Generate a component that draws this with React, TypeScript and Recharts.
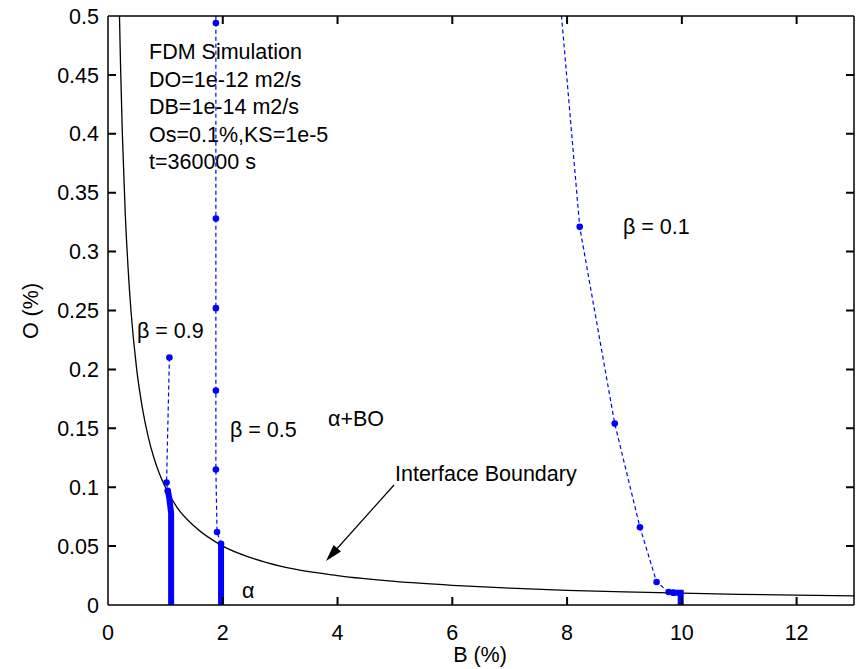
import { ComposedChart, Line, XAxis, YAxis } from 'recharts';

const BLUE = '#0000ff';
const FONT = "'Liberation Sans', Arial, Helvetica, sans-serif";

// B (%) ticks and O (%) ticks
const xTicks = [0, 2, 4, 6, 8, 10, 12];
const yTicks = [0, 0.05, 0.1, 0.15, 0.2, 0.25, 0.3, 0.35, 0.4, 0.45, 0.5];

// interface boundary (black curve)
const boundaryB = [0.2, 0.22, 0.25, 0.3, 0.35, 0.4, 0.5, 0.6, 0.7, 0.8, 0.9, 1, 1.2, 1.5, 2, 2.5, 3, 4, 5, 6, 7, 8, 9, 10, 11, 12, 13];
const boundaryO = [0.5, 0.455, 0.4, 0.333, 0.286, 0.25, 0.2, 0.167, 0.143, 0.125, 0.111, 0.1, 0.083, 0.067, 0.05, 0.04, 0.033, 0.025, 0.02, 0.0167, 0.0143, 0.0125, 0.0111, 0.01, 0.0091, 0.0083, 0.0077];

// beta = 0.9 profile
const beta09B = [1.07, 1.02, 1.04];
const beta09O = [0.21, 0.104, 0.097];
const beta09ThickB = [1.04, 1.07, 1.1, 1.1];
const beta09ThickO = [0.098, 0.09, 0.078, 0];

// beta = 0.5 profile
const beta05B = [1.88, 1.88, 1.88, 1.88, 1.88, 1.88, 1.9, 1.97];
const beta05O = [0.53, 0.494, 0.328, 0.252, 0.182, 0.115, 0.062, 0.052];
const beta05ThickB = [1.97, 1.97];
const beta05ThickO = [0.052, 0];

// beta = 0.1 profile
const beta01B = [7.85, 8.22, 8.83, 9.27, 9.56, 9.77, 9.85];
const beta01O = [0.53, 0.321, 0.154, 0.066, 0.0195, 0.011, 0.0105];
const beta01ThickB = [9.82, 9.98, 9.98];
const beta01ThickO = [0.0105, 0.0105, 0];

const toPoints = (bs: number[], os: number[]) => bs.map((b, i) => ({ b, o: os[i] }));

const infoLines = ['FDM Simulation', 'DO=1e-12 m2/s', 'DB=1e-14 m2/s', 'Os=0.1%,KS=1e-5', 't=360000 s'];

const txt = { fontFamily: FONT, fontSize: 21.5, fill: '#000' };
const tickFont = { fontSize: 21.5, fill: '#000', fontFamily: FONT };

// plot box (matches margins + axis sizes below), used for the inward matlab ticks
const PL = 108, PR = 854, PT = 16, PB = 605, TL = 8;
const px = (b: number) => PL + (b / 13) * (PR - PL);
const py = (o: number) => PB - (o / 0.5) * (PB - PT);

const tickPath = [
  ...xTicks.slice(1).map((t) => `M${px(t)} ${PB} L${px(t)} ${PB - TL} M${px(t)} ${PT} L${px(t)} ${PT + TL} `),
  ...yTicks.slice(1, -1).map((t) => `M${PL} ${py(t)} L${PL + TL} ${py(t)} M${PR} ${py(t)} L${PR - TL} ${py(t)} `),
].join('');

export default function App() {
  const dashed = { stroke: BLUE, strokeWidth: 1.2, strokeDasharray: '4 3' };
  const dot = { r: 3.3, fill: BLUE, stroke: 'none' };
  return (
    <div style={{ position: 'absolute', left: 0, top: 0, width: 858, height: 669, background: '#fff' }}>
      <ComposedChart width={858} height={669} margin={{ top: 15, right: 3, left: 0, bottom: 0 }}>
        <XAxis
          dataKey="b"
          type="number"
          domain={[0, 13]}
          ticks={xTicks}
          height={64}
          stroke="#000"
          strokeWidth={1.5}
          tickLine={false}
          tickMargin={14}
          tick={tickFont}
          interval={0}
          allowDataOverflow
        />
        <XAxis xAxisId="top" orientation="top" type="number" domain={[0, 13]} ticks={xTicks} height={1} stroke="#000" strokeWidth={1.5} tick={false} tickLine={false} />
        <YAxis
          type="number"
          domain={[0, 0.5]}
          ticks={yTicks}
          width={108}
          stroke="#000"
          strokeWidth={1.5}
          tickLine={false}
          tickMargin={3}
          tick={tickFont}
          interval={0}
          allowDataOverflow
        />
        <YAxis yAxisId="right" orientation="right" type="number" domain={[0, 0.5]} ticks={yTicks} width={1} stroke="#000" strokeWidth={1.5} tick={false} tickLine={false} />

        <Line
          data={toPoints(boundaryB, boundaryO)}
          dataKey="o"
          type="monotone"
          stroke="#000"
          strokeWidth={1.3}
          dot={false}
          isAnimationActive={false}
        />
        <Line data={toPoints(beta09B, beta09O)} dataKey="o" type="linear" {...dashed} dot={dot} isAnimationActive={false} />
        <Line data={toPoints(beta05B, beta05O)} dataKey="o" type="linear" {...dashed} dot={dot} isAnimationActive={false} />
        <Line data={toPoints(beta01B, beta01O)} dataKey="o" type="linear" {...dashed} dot={dot} isAnimationActive={false} />
        <Line data={toPoints(beta09ThickB, beta09ThickO)} dataKey="o" type="linear" stroke={BLUE} strokeWidth={6} dot={false} isAnimationActive={false} />
        <Line data={toPoints(beta05ThickB, beta05ThickO)} dataKey="o" type="linear" stroke={BLUE} strokeWidth={6} dot={false} isAnimationActive={false} />
        <Line data={toPoints(beta01ThickB, beta01ThickO)} dataKey="o" type="linear" stroke={BLUE} strokeWidth={6} dot={false} isAnimationActive={false} />

        {infoLines.map((s, i) => (
          <text key={s} x={149} y={59 + i * 27.5} {...txt}>{s}</text>
        ))}
        <text x={137} y={338} {...txt}>β = 0.9</text>
        <text x={230} y={437} {...txt}>β = 0.5</text>
        <text x={328} y={426} {...txt}>α+BO</text>
        <text x={395} y={481} {...txt}>Interface Boundary</text>
        <text x={242} y={598} {...txt}>α</text>
        <text x={623} y={234} {...txt}>β = 0.1</text>
        <line x1={394} y1={485} x2={334} y2={552} stroke="#000" strokeWidth={1.2} />
        <polygon points="326,561 341,551.6 333.6,545" fill="#000" />
        <text x={480} y={662} textAnchor="middle" {...txt}>B (%)</text>
        <text x={38} y={311} textAnchor="middle" transform="rotate(-90 38 311)" {...txt}>O (%)</text>
      </ComposedChart>
      {/* inward tick marks on all four sides, overlaid */}
      <svg width={858} height={669} style={{ position: 'absolute', left: 0, top: 0, pointerEvents: 'none' }}>
        <path d={tickPath} stroke="#000" strokeWidth={2} fill="none" />
      </svg>
    </div>
  );
}
